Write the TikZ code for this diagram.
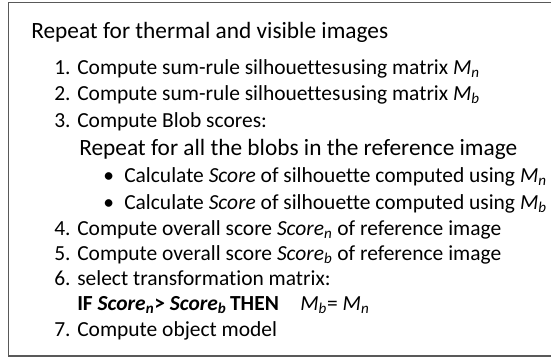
\documentclass[tikz,border=0pt]{standalone}
\usepackage{fontspec}
\setmainfont{Carlito}[Ligatures=NoCommon]

\begin{document}
\begin{tikzpicture}[x=0.75pt,y=-0.75pt,
  line/.style={anchor=base west,inner sep=0pt,font=\fontsize{16.1}{19}\selectfont},
  head/.style={anchor=base west,inner sep=0pt,font=\fontsize{17.5}{21}\selectfont}]

\useasboundingbox (0,0) rectangle (551,358);

% frame (right side runs off the page)
\draw [black!65,line width=1.1pt] (8.5,2.5) rectangle (570,356);

\node [head] (title) at (31,38) {Repeat for thermal and visible images};

% steps
\node [line] (n1) at (54,74) {1.};
\node [line] (s1) at (77,74) {Compute sum-rule silhouettes\hspace{-3pt} using matrix \textit{M\textsubscript{n}}};
\node [line] (n2) at (54,100) {2.};
\node [line] (s2) at (77,100) {Compute sum-rule silhouettes\hspace{-3pt} using matrix \textit{M\textsubscript{b}}};
\node [line] (n3) at (54,127) {3.};
\node [line] (s3) at (77,127) {Compute Blob scores:};

% inner loop
\node [head] (inner) at (79,155) {Repeat for all the blobs in the reference image};
\node [line] (d1) at (103,182) {•};
\node [line] (b1) at (124,182) {Calculate \textit{Score} of silhouette computed using \textit{M\textsubscript{n}}};
\node [line] (d2) at (103,209) {•};
\node [line] (b2) at (124,209) {Calculate \textit{Score} of silhouette computed using \textit{M\textsubscript{b}}};

\node [line] (n4) at (54,235) {4.};
\node [line] (s4) at (77,235) {Compute overall score \textit{Score\textsubscript{n}} of reference image};
\node [line] (n5) at (54,260) {5.};
\node [line] (s5) at (77,260) {Compute overall score \textit{Score\textsubscript{b}} of reference image};
\node [line] (n6) at (54,285) {6.};
\node [line] (s6) at (77,285) {select transformation matrix:};
\node [line] (cond) at (77,310) {\textbf{IF \textit{Score\textsubscript{n}}> \textit{Score\textsubscript{b}}\,THEN}\quad \textit{M\textsubscript{b}}= \textit{M\textsubscript{n}}};
\node [line] (n7) at (54,336) {7.};
\node [line] (s7) at (77,336) {Compute object model};

\end{tikzpicture}
\end{document}
